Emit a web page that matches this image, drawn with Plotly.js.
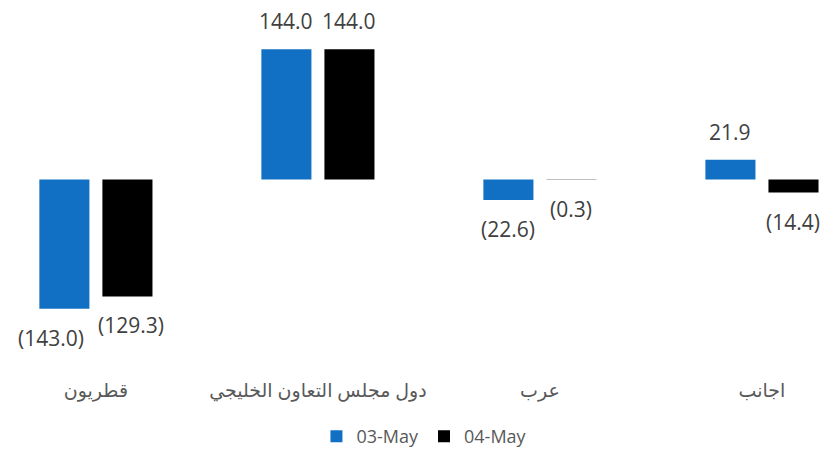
<!DOCTYPE html>
<html><head><meta charset="utf-8">
<script src="https://cdn.plot.ly/plotly-3.0.1.min.js"></script>
<style>html,body{margin:0;padding:0;background:#fff;}#chart{width:829px;height:455px;}</style>
</head><body><div id="chart"></div>
<script>
const categories = ["قطريون", "دول مجلس التعاون الخليجي", "عرب", "اجانب"];
const seriesNames = ["03-May", "04-May"];
const may03 = [-143.0, 144.0, -22.6, 21.9];
const may04 = [-129.3, 144.0, -0.3, -14.4];
const colors = ["#1270C4", "#000000"];

const fmt = v => v < 0 ? "(" + Math.abs(v).toFixed(1) + ")" : v.toFixed(1);
const font = "Open Sans, DejaVu Sans, sans-serif";

const data = [may03, may04].map((vals, i) => ({
  type: "bar", x: categories, y: vals, name: seriesNames[i],
  marker: {color: colors[i]}, hoverinfo: "none"
}));

const annotations = [];
[may03, may04].forEach((vals, i) => {
  vals.forEach((v, j) => {
    let xs = (i === 0 ? -31.5 : 31.5);
    if (j === 0) xs = (i === 0 ? -45 : 35);
    annotations.push({
      x: categories[j], y: v, xref: "x", yref: "y",
      text: fmt(v), showarrow: false,
      xshift: xs,
      yshift: (v >= 0 ? 28 : -29),
      font: {family: font, size: 21, color: "#404040"}
    });
  });
});

const layout = {
  width: 829, height: 455,
  margin: {l: 0, r: 0, t: 0, b: 83},
  paper_bgcolor: "#fff", plot_bgcolor: "#fff",
  barmode: "group", bargap: 0.432, bargroupgap: 0.206,
  xaxis: {type: "category", range: [-0.432, 3.302], showgrid: false, zeroline: false,
          showline: false, ticks: "", ticklabelstandoff: 10,
          tickfont: {family: font, size: 19, color: "#595959"}},
  yaxis: {range: [-207.3, 198.6], visible: false, showgrid: false, zeroline: false},
  showlegend: true,
  legend: {orientation: "h", x: 0.512, xanchor: "center", y: -0.19, yanchor: "middle",
           font: {family: font, size: 18, color: "#595959"}, itemwidth: 30},
  annotations: annotations
};
Plotly.newPlot("chart", data, layout, {staticPlot: true});
</script></body></html>
